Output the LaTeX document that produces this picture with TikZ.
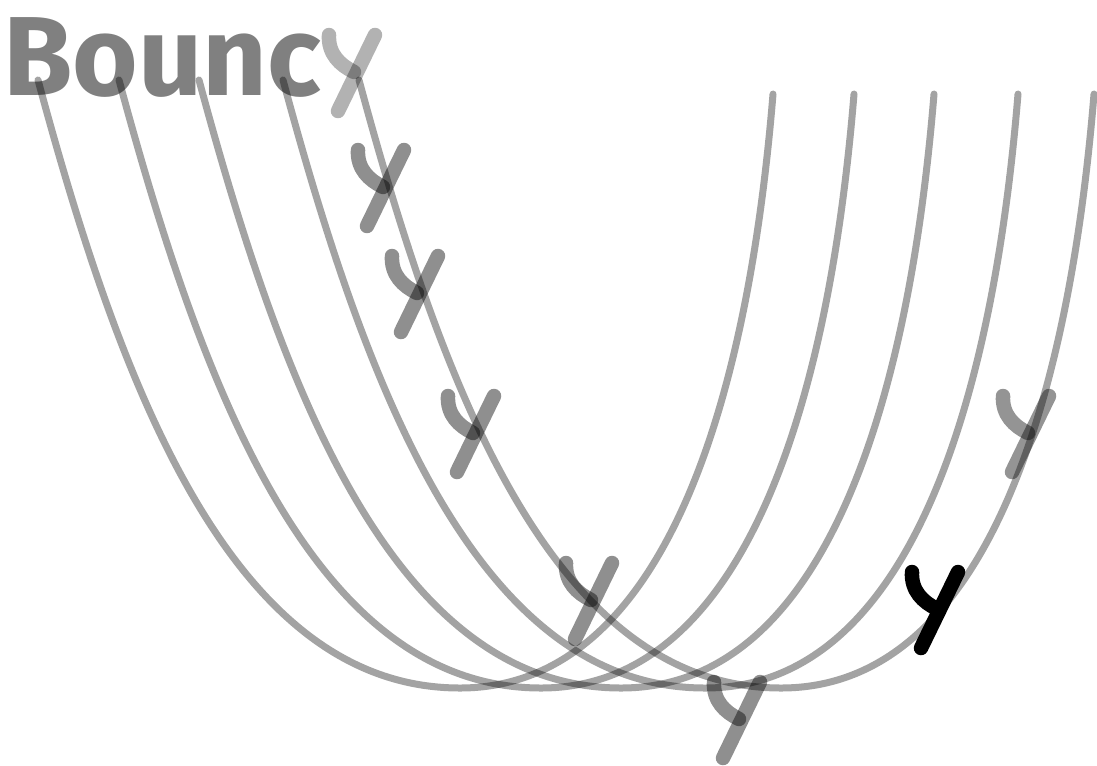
\documentclass[tikz,border=0pt]{standalone}
\usepackage{fontspec}
\setmainfont{Fira Sans}
\usetikzlibrary{positioning}
\definecolor{WordGray}{RGB}{128,128,128}
\tikzset{
  track/.style={draw=black,draw opacity=0.36,line width=0.14cm,line cap=round},
  ystroke/.style={line width=0.29cm,line cap=round},
  title/.style={text=WordGray,inner sep=0pt,font=\fontsize{64}{70}\selectfont\bfseries},
  ylet/.pic={
    \draw[ystroke] (-25,-37) .. controls (-26,-18) and (-14,-7) .. (0,0);
    \draw[ystroke] (21,-37) -- (-16,39);
  },
}

\begin{document}
\begin{tikzpicture}[x=0.02cm,y=-0.02cm]
  \useasboundingbox (0,0) rectangle (1097,765);
  \node[title,anchor=base west] (word) at (3,95) {Bounc};

  \foreach \s in {0,81,161,245,321}
    \draw[track] ({38+\s},80) .. controls ({119+\s},380) and ({230+\s},688) .. ({460+\s},688)
      .. controls ({660+\s},688) and ({747+\s},412) .. ({773+\s},94);

  \foreach \px/\py/\op in {354/72/0.3,383/187/0.44,417/293/0.44,473/433/0.44,
      591/600/0.44,739/719/0.44,1028/433/0.42}
    \pic[draw opacity=\op] at (\px,\py) {ylet};
  \pic[black] at (937,609) {ylet};
\end{tikzpicture}
\end{document}
